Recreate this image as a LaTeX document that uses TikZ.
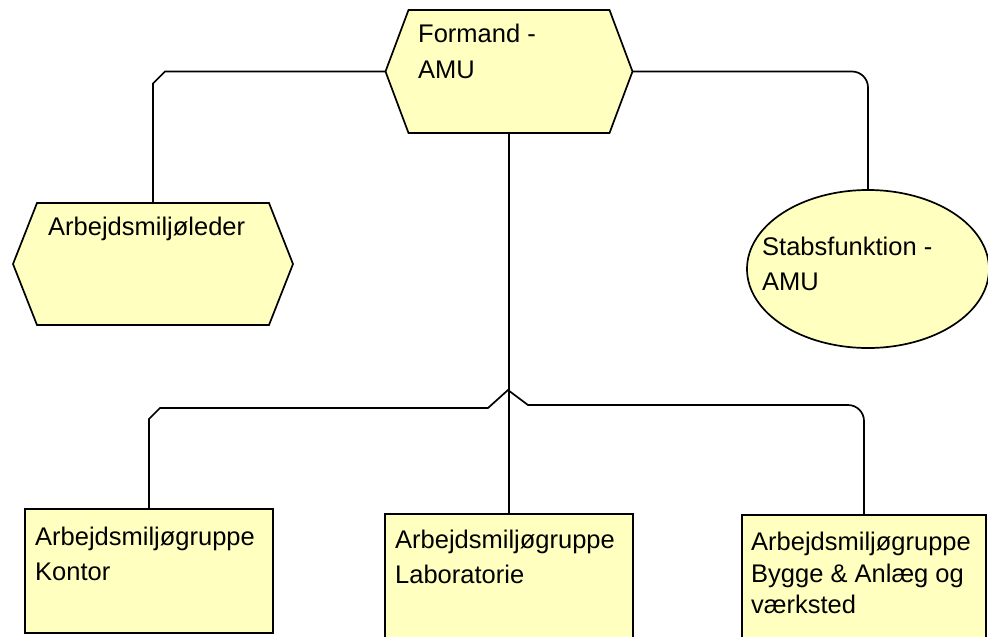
\documentclass[tikz,border=0pt]{standalone}
\usepackage{fontspec}
\setmainfont{Liberation Sans}
\usetikzlibrary{shapes.geometric}
\definecolor{boxfill}{RGB}{255,255,192}
\newcommand{\hexashape}[2]{%
  \draw[shapeline] ([xshift=#2]#1.north west) -- ([xshift=-#2]#1.north east)
    -- (#1.east) -- ([xshift=-#2]#1.south east) -- ([xshift=#2]#1.south west)
    -- (#1.west) -- cycle;}
\begin{document}
\begin{tikzpicture}[x=1pt,y=-1pt,
  shapeline/.style={draw=black,line width=1.7pt,fill=boxfill,line join=miter},
  hexframe/.style={rectangle,inner sep=0pt,outer sep=0pt},
  rectbox/.style={shapeline,rectangle,inner sep=0pt},
  ovalbox/.style={shapeline,ellipse,inner sep=0pt},
  txt/.style={inner sep=0pt,anchor=base west,font=\fontsize{25.5}{30}\selectfont},
  conn/.style={draw=black,line width=1.7pt}]
\useasboundingbox (0,0) rectangle (988,637);
\clip (0,0) rectangle (988,637);
% shapes
\node[hexframe,minimum width=247pt,minimum height=123pt] (formand) at (509,71.5) {};
\hexashape{formand}{23pt}
\node[hexframe,minimum width=280pt,minimum height=122pt] (leder) at (153,264) {};
\hexashape{leder}{24pt}
\node[ovalbox,minimum width=242pt,minimum height=158pt] (stab) at (868,269) {};
\node[rectbox,minimum width=248pt,minimum height=124pt] (kontor) at (149,571) {};
\node[rectbox,minimum width=248pt,minimum height=128pt] (lab) at (509,578) {};
\node[rectbox,minimum width=244pt,minimum height=128pt] (bygge) at (864,579) {};
% texts
\node[txt] (formandA) at (418,42) {Formand -};
\node[txt] (formandB) at (418,78) {AMU};
\node[txt] (lederA) at (48,235) {Arbejdsmiljøleder};
\node[txt] (stabA) at (762,255) {Stabsfunktion -};
\node[txt] (stabB) at (762,290) {AMU};
\node[txt] (kontorA) at (35,545) {Arbejdsmiljøgruppe};
\node[txt] (kontorB) at (35,580) {Kontor};
\node[txt] (labA) at (395,548) {Arbejdsmiljøgruppe};
\node[txt] (labB) at (395,583) {Laboratorie};
\node[txt] (byggeA) at (751,550) {Arbejdsmiljøgruppe};
\node[txt] (byggeB) at (751,582) {Bygge \& Anlæg og};
\node[txt] (byggeC) at (751,613) {værksted};
% connectors
\draw[conn] (formand.west) -- (165,71.5) -- (153,83.5) -- (leder.north);
\draw[conn,rounded corners=16pt] (formand.east) -| (stab.north);
\draw[conn] (formand.south) -- (lab.north);
\draw[conn] (kontor.north) -- (149,419) -- (160,408) -- (488,408) -- (508,390)
  -- (528,405) -- (848,405) [rounded corners=16pt] -- (864,405) -- (bygge.north);
\end{tikzpicture}
\end{document}
